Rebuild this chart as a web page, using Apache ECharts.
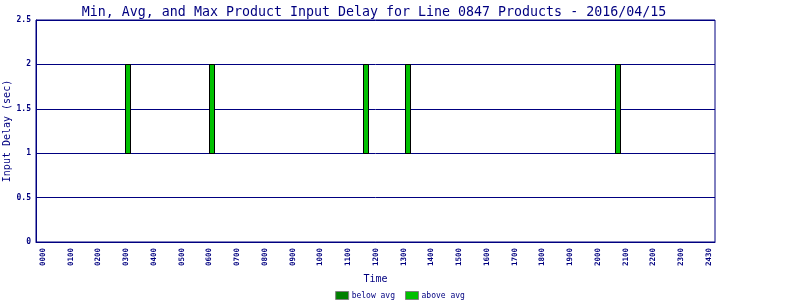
<!DOCTYPE html>
<html>
<head>
<meta charset="utf-8">
<script src="https://cdn.jsdelivr.net/npm/echarts@6/dist/echarts.min.js"></script>
<style>html,body{margin:0;padding:0;background:#fff}#c{width:800px;height:300px}</style>
</head>
<body>
<div id="c"></div>
<script>
// Tick labels on the time axis (evenly spaced positions 0..24)
const timeLabels = ["0000","0100","0200","0300","0400","0500","0600","0700","0800","0900","1000","1100","1200","1300","1400","1500","1600","1700","1800","1900","2000","2100","2200","2300","2430"];
// Product times (in axis hour units) and delay values (sec)
const productTimes = [3.06, 6.09, 11.64, 13.16, 20.73];
const minDelay = [1, 1, 1, 1, 1];
const avgDelay = [1, 1, 1, 1, 1];
const maxDelay = [2, 2, 2, 2, 2];

const NAVY = '#000080';
const FONT = 'DejaVu Sans Mono';

const belowData = productTimes.map((t, i) => [t, minDelay[i], avgDelay[i]]);
const aboveData = productTimes.map((t, i) => [t, avgDelay[i], maxDelay[i]]);

function rangeBar(color) {
  return function (params, api) {
    const x = api.value(0), lo = api.value(1), hi = api.value(2);
    const pTop = api.coord([x, hi]);
    const pBot = api.coord([x, lo]);
    const left = Math.round(pTop[0] - 3) + 0.5;
    return {
      type: 'rect',
      shape: {x: left, y: Math.round(pTop[1]) + 0.5, width: 5, height: Math.round(pBot[1]) - Math.round(pTop[1])},
      style: {fill: color, stroke: '#000', lineWidth: 1}
    };
  };
}

const chart = echarts.init(document.getElementById('c'), null, {renderer: 'canvas'});
chart.setOption({
  animation: false,
  backgroundColor: '#fff',
  title: {
    text: 'Min, Avg, and Max Product Input Delay for Line 0847 Products - 2016/04/15',
    left: 369, top: 1, textAlign: 'center',
    textStyle: {color: NAVY, fontFamily: FONT, fontSize: 13.3, fontWeight: 'normal'}
  },
  grid: {left: 36, right: 85, top: 20, bottom: 58, show: true, borderColor: NAVY, borderWidth: 1,
         containLabel: false, outerBoundsMode: 'none'},
  legend: {
    left: 'center', top: 291, padding: 0, itemWidth: 13, itemHeight: 8, itemGap: 10,
    textStyle: {color: NAVY, fontFamily: FONT, fontSize: 8, padding: [0,0,0,-2]},
    data: [
      {name: 'below avg', icon: 'rect', itemStyle: {color: '#008000', borderColor: '#808080', borderWidth: 1}},
      {name: 'above avg', icon: 'rect', itemStyle: {color: '#00C000', borderColor: '#808080', borderWidth: 1}}
    ]
  },
  xAxis: {
    type: 'value', min: -0.252, max: 24.22,
    name: 'Time', nameLocation: 'middle', nameGap: 32, nameMoveOverlap: false,
    nameTextStyle: {color: NAVY, fontFamily: FONT, fontSize: 10},
    axisLine: {show: true, onZero: false, lineStyle: {color: NAVY, width: 1}},
    axisTick: {show: false},
    splitLine: {show: false},
    axisLabel: {
      customValues: timeLabels.map((_, i) => i),
      formatter: v => timeLabels[Math.round(v)],
      rotate: 90, margin: 6, color: NAVY, fontFamily: FONT, fontSize: 7.5, fontWeight: 'bold'
    }
  },
  yAxis: {
    type: 'value', min: 0, max: 2.5, interval: 0.5,
    name: 'Input Delay (sec)', nameLocation: 'middle', nameGap: 24, nameMoveOverlap: false,
    nameTextStyle: {color: NAVY, fontFamily: FONT, fontSize: 10},
    axisLine: {show: true, onZero: false, lineStyle: {color: NAVY, width: 1}},
    axisTick: {show: false},
    splitLine: {show: true, lineStyle: {color: NAVY, width: 1}},
    axisLabel: {margin: 5, color: NAVY, fontFamily: FONT, fontSize: 8, fontWeight: 'bold'}
  },
  series: [
    {name: 'below avg', type: 'custom', renderItem: rangeBar('#008000'), data: belowData,
     encode: {x: 0, y: [1, 2]}, itemStyle: {color: '#008000'}},
    {name: 'above avg', type: 'custom', renderItem: rangeBar('#00C000'), data: aboveData,
     encode: {x: 0, y: [1, 2]}, itemStyle: {color: '#00C000'}}
  ]
});
</script>
</body>
</html>
